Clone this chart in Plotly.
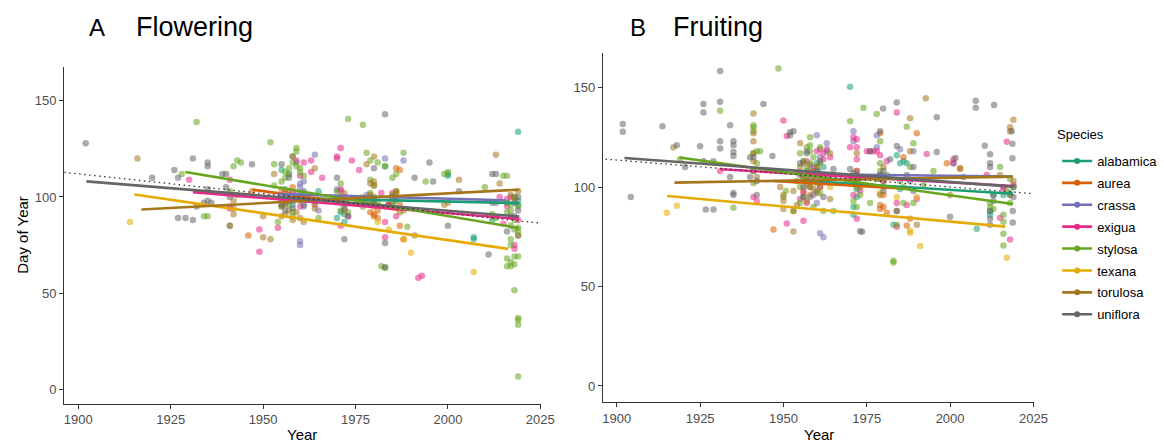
import plotly.graph_objects as go

species = ["alabamica", "aurea", "crassa", "exigua", "stylosa", "texana", "torulosa", "uniflora"]
colors = ["#1B9E77", "#D95F02", "#7570B3", "#E7298A", "#66A61E", "#E6AB02", "#A6761D", "#666666"]

# ---------------- Flowering (panel A): (year, day of year) ----------------
flow_alabamica = [(1955, 114), (1956, 104), (1958, 96), (1959, 100), (1965, 103), (1970, 89), (1971, 92),
                  (1972, 87), (1983, 116), (1984, 96), (2000, 112), (2000, 111), (2007, 79), (2007, 78),
                  (2012, 88), (2019, 134), (2019, 96), (2018, 100), (1957, 101), (1971, 97), (1972, 91),
                  (1985, 96), (2016, 97), (2019, 98)]
flow_aurea = [(1946, 80), (1947, 103), (1955, 104), (1956, 102), (1957, 103), (1958, 100), (1979, 92),
              (1980, 91), (1980, 90), (1981, 89), (1984, 96), (1986, 115), (1987, 114), (1987, 85),
              (1988, 78), (1979, 100), (1958, 105), (1980, 95), (1981, 93), (1987, 96)]
flow_crassa = [(1959, 118), (1960, 107), (1960, 105), (1961, 103), (1960, 100), (1961, 95), (1960, 77),
               (1960, 75), (1964, 122), (1962, 99), (1965, 93), (1970, 104), (1978, 101), (1983, 120),
               (1988, 119), (1957, 112), (1955, 99), (1956, 96), (1958, 98), (1959, 102), (1961, 108),
               (1972, 98), (1980, 97)]
flow_exigua = [(1930, 109), (1941, 109), (1941, 95), (1941, 94), (1941, 85), (1949, 83), (1949, 71.5),
               (1954, 84), (1958, 121), (1959, 119), (1960, 111), (1961, 118), (1963, 119), (1963, 113),
               (1964, 96), (1966, 110), (1970, 120), (1970, 121), (1971, 104), (1971, 85), (1971, 125.5),
               (1974, 119), (1976, 114), (1982, 102), (1983, 79), (1983, 87), (1985, 102), (1986, 90),
               (1992, 58), (1993, 59), (2014, 100), (2016, 99), (2018, 75), (2018, 73), (2019, 88),
               (2015, 86), (1956, 98), (1958, 102), (1960, 95), (1971, 103), (1972, 100), (1973, 90),
               (1980, 98), (1984, 96), (2016, 95), (2017, 100), (2019, 80)]
flow_stylosa = [(1928, 112), (1932, 139), (1934, 90), (1935, 90), (1941, 103), (1941, 85), (1942, 116),
                (1943, 119), (1944, 118), (1952, 128.5), (1953, 117), (1953, 106), (1954, 87), (1955, 95),
                (1956, 113), (1957, 115), (1958, 118), (1959, 125.5), (1959, 123.7), (1958, 121),
                (1960, 115), (1961, 111), (1958, 90), (1965, 89), (1960, 98), (1971, 107), (1971, 93),
                (1973, 140.6), (1977, 137.6), (1977, 95), (1978, 123), (1979, 109), (1980, 106),
                (1981, 118), (1983, 116), (1985, 110), (1986, 112), (1988, 123), (1989, 84.5), (1994, 108),
                (1999, 112), (2000, 113), (2010, 105), (2012, 91), (2015, 111), (2016, 111), (2016, 97),
                (2017, 93), (2017, 78), (2017, 75), (2016, 68), (2017, 66), (2016, 64), (2017, 64),
                (2018, 65), (2018, 69), (2019, 82), (2019, 80), (2019, 69), (2018, 51.5), (2019, 37),
                (2019, 36), (2019, 33.5), (2019, 6.5), (2018, 88), (2017, 85), (2019, 95), (1986, 103),
                (1979, 119), (1983, 63), (1982, 64), (1955, 108), (1956, 110), (1957, 112), (1959, 116),
                (1960, 113), (1961, 102), (1957, 96), (1958, 92), (1970, 103), (1971, 100), (1972, 96),
                (1973, 92), (1979, 102), (1980, 100), (1981, 97), (1985, 101), (1986, 98), (2012, 90),
                (2013, 89), (2016, 92), (2017, 96), (2018, 100), (2019, 84), (2018, 83), (1943, 101),
                (1960, 101), (1964, 97)]
flow_texana = [(1914, 87), (1977, 100), (1984, 83), (1988, 78), (1990, 71), (2007, 61), (1955, 98),
               (1981, 87)]
flow_torulosa = [(1916, 120), (1942, 98), (1942, 94), (1942, 91), (1950, 90), (1950, 79), (1952, 78),
                 (1953, 112), (1955, 95), (1956, 91), (1957, 93), (1959, 92), (1960, 89), (1964, 94),
                 (1964, 115), (1972, 102), (1978, 117), (1979, 107), (1980, 106), (1980, 121), (1985, 97),
                 (1986, 102), (1987, 92), (1988, 93), (1991, 80), (2003, 109), (2013, 122), (2014, 107),
                 (2019, 103), (2000, 97), (1999, 96), (1955, 90), (1956, 97), (1957, 99), (1958, 88),
                 (1961, 87), (1972, 100), (1972, 93), (1979, 101), (1979, 97), (1980, 108), (1985, 100),
                 (1986, 103), (2017, 101), (2018, 99)]
flow_uniflora = [(1902, 128), (1920, 110), (1926, 114), (1927, 110), (1927, 89), (1929, 89), (1931, 88),
                 (1931, 120), (1932, 95), (1934, 97), (1935, 98), (1935, 118), (1935, 116), (1935, 104),
                 (1939, 112), (1940, 112), (1940, 105), (1947, 117), (1955, 117), (1957, 110), (1960, 99),
                 (1956, 93), (1970, 110), (1972, 78), (1980, 115), (1983, 143), (1983, 76), (1985, 100),
                 (1991, 110), (1995, 118), (1996, 108), (2000, 85), (2003, 103), (2011, 70), (2012, 112),
                 (2013, 112), (2016, 82), (2018, 90), (2019, 100), (2018, 97), (1983, 63.5), (1955, 96),
                 (1957, 98), (1958, 94), (1961, 96), (1971, 98), (1972, 94), (1973, 90), (1979, 96),
                 (1980, 99), (1986, 99), (2012, 97), (2013, 97), (2017, 90), (2019, 93), (1936, 97),
                 (1941, 100)]

flow_fit_start_year = [1955, 1947.2, 1954, 1931, 1929, 1915.2, 1917.1, 1902.2]
flow_fit_start_doy = [99.5, 103.8, 101.5, 102.5, 113.0, 101.3, 93.5, 108.1]
flow_fit_end_year = [2019.3, 1986.8, 2015.5, 2019.3, 2019.3, 2016.3, 2019.3, 2019.3]
flow_fit_end_doy = [96.8, 93.3, 98.3, 88.5, 83.8, 73.0, 103.8, 89.8]
flow_overall_year = [1896.2, 2024.8]
flow_overall_doy = [112.8, 86.4]

# ---------------- Fruiting (panel B): (year, day of year) ----------------
fruit_alabamica = [(1970, 150.4), (1971, 86), (1958, 100), (1959, 103), (1960, 98), (1962, 110), (1963, 118),
                   (1971, 90), (1984, 116), (1985, 112), (1986, 113), (1987, 112), (1983, 81), (2001, 112),
                   (2008, 79), (2012, 86), (2012, 88), (2016, 96), (2018, 97), (1972, 95), (1957, 108),
                   (1960, 112), (1972, 99), (1979, 104), (1985, 99), (2013, 96)]
fruit_aurea = [(1947, 78.7), (1957, 105), (1958, 100), (1960, 97), (1962, 103), (1979, 127), (1979, 89),
               (1980, 90), (1981, 87), (1987, 80.6), (1988, 84), (1990, 127), (1999, 112), (2003, 109),
               (1986, 115), (1979, 91), (1956, 98), (1959, 103), (1972, 102), (1980, 96)]
fruit_crassa = [(1955, 107), (1956, 113), (1957, 103), (1959, 96), (1960, 126), (1960.5, 108), (1961, 105),
                (1961, 76.8), (1962, 74.8), (1963, 122), (1971, 128), (1971, 123), (1978, 126), (1978, 120),
                (1985, 119), (1989, 118), (1958, 95), (1960, 92), (1957, 118), (1959, 110), (1961, 115),
                (1972, 106), (1979, 106)]
fruit_exigua = [(1931, 108), (1941, 95), (1942, 93), (1950, 133.4), (1951, 125.6), (1951, 81.6), (1956, 83),
                (1955, 94), (1957, 113), (1958, 111), (1960, 118), (1961, 119), (1962, 117), (1962, 114),
                (1963, 119), (1964, 115), (1970, 120), (1971, 125), (1972, 124), (1972, 120), (1972, 114),
                (1971, 96), (1972, 84), (1975, 118), (1976, 118), (1977, 118), (1978, 118), (1979, 116),
                (1981, 113), (1984, 137.5), (1984, 80), (1984, 92), (1987, 91), (1990, 94), (1993, 116.6),
                (2001, 113.9), (2001, 112), (2011, 106), (2015, 84.6), (2016, 100), (2017, 122.8),
                (2018, 96), (2018, 73.6), (2019, 101), (1956, 97), (1957, 92), (1959, 108), (1960, 105),
                (1961, 100), (1972, 108), (1973, 98), (1980, 103), (2016, 99)]
fruit_stylosa = [(1919, 114), (1931, 138.3), (1935, 89.6), (1941, 131), (1941, 130), (1941, 128), (1941, 117),
                 (1941, 102), (1942, 118), (1943, 118), (1948.5, 159.6), (1950, 95), (1950.7, 98), (1953, 88),
                 (1955, 92), (1955, 117), (1956, 113), (1957, 110), (1958, 125), (1958, 121), (1958, 118),
                 (1959, 115), (1960, 110), (1961, 120), (1961, 97), (1962, 88), (1965, 88), (1970, 133),
                 (1971, 93), (1972, 90), (1974, 139.8), (1976, 92), (1978, 136.7), (1979, 123), (1979, 108),
                 (1981, 106), (1983, 63), (1983, 62), (1984, 81), (1986, 92), (1987, 130.3), (1988, 110),
                 (1989, 122), (1989, 92), (1992, 101), (1995, 108), (2012, 90), (2015, 110), (2016, 86),
                 (2016, 82.6), (2016, 76.5), (2016, 70.6), (2017, 98), (2018, 96), (2018, 92), (2019, 100),
                 (1955, 100), (1956, 105), (1956, 95), (1957, 120), (1958, 112), (1959, 106), (1960, 102),
                 (1961, 112), (1959, 90), (1971, 104), (1972, 100), (1973, 96), (1978, 104), (1979, 112),
                 (1980, 100), (1985, 103), (1986, 100), (1941, 108), (1942, 112), (2012, 92), (2013, 89),
                 (2018, 104)]
fruit_texana = [(1915, 87), (1918, 90.6), (1964, 100), (1979, 97), (1984, 95), (1988, 78), (1988, 77),
                (1991, 70.3), (1990, 95), (2017, 64.5)]
fruit_torulosa = [(1917, 120), (1941, 137), (1941, 127), (1941, 123), (1941, 113), (1942, 105), (1949, 100),
                  (1950, 96), (1950, 93), (1950, 89), (1953, 77.7), (1953, 88), (1954, 91), (1955, 122),
                  (1956, 112), (1957, 101), (1958, 96), (1960, 110), (1964, 117), (1964, 94), (1972, 117),
                  (1979, 96), (1980, 110), (1984, 88), (1988, 134.5), (1988, 118), (1992.7, 144.6),
                  (1990, 81), (2003, 109.6), (2000, 96), (2015, 106), (2018, 128), (2019, 133.8), (2019, 103),
                  (1955, 110), (1956, 105), (1957, 93), (1958, 108), (1959, 99), (1961, 100), (1972, 108),
                  (1973, 100), (1979, 105), (1980, 103), (1953, 98), (1954, 103), (1941, 117), (2018, 130)]
fruit_uniflora = [(1901.8, 131.7), (1901.8, 127.8), (1904.2, 95), (1913.7, 130.5), (1918, 121), (1920.5, 110),
                  (1925, 120.5), (1926, 141.7), (1926, 137.5), (1926, 113), (1926.7, 88.7), (1929, 88.7),
                  (1929, 113), (1931, 158.3), (1931, 142.9), (1931, 123), (1931, 119.4), (1934, 131),
                  (1934, 105), (1935, 123), (1935, 121), (1935, 117.6), (1935, 115.6), (1935, 97), (1935, 96),
                  (1940, 115), (1940, 105), (1941, 115), (1942, 96), (1944, 141.7), (1946.7, 115.6),
                  (1952, 127.5), (1952, 126), (1953, 128), (1955, 106), (1956, 100), (1960, 108), (1965, 109),
                  (1970, 109), (1973, 77.8), (1973.6, 77.5), (1976, 118), (1979.9, 139.5), (1979, 128),
                  (1980, 98), (1982, 114), (1984, 142.5), (1984, 120.6), (1984, 88), (1987, 106), (1989, 110),
                  (1996, 135), (1996, 117.6), (2000, 85), (2001.6, 114.6), (2004, 105), (2007.7, 143.4),
                  (2007.7, 139.8), (2010.4, 120.7), (2012, 116.5), (2012, 112), (2012, 110), (2012, 88),
                  (2012, 84), (2012, 81), (2013.2, 141.2), (2013, 96), (2018.5, 128), (2018.7, 121.7),
                  (2018.7, 114.4), (2018.8, 88), (2018.8, 82.2), (2019, 100), (1955, 112), (1956, 95),
                  (1957, 117), (1958, 104), (1961, 113), (1962, 95), (1971, 107), (1972, 103), (1979, 106),
                  (1980, 108), (1988, 103), (1989, 98), (1941, 108), (1942, 103), (2013, 93), (2019, 95)]

fruit_fit_start_year = [1955, 1947, 1954, 1931.1, 1918.8, 1915.1, 1917.3, 1902.3]
fruit_fit_start_doy = [103.3, 103.0, 106.5, 108.9, 114.8, 95.5, 102.2, 114.6]
fruit_fit_end_year = [2018.8, 1988, 2018.8, 2018.8, 2018.8, 2016.6, 2018.8, 2018.8]
fruit_fit_end_doy = [96.6, 99.0, 105.3, 100.5, 91.5, 80.1, 105.2, 100.2]
fruit_overall_year = [1896.6, 2024.6]
fruit_overall_doy = [114.0, 96.7]

flow_points = [flow_alabamica, flow_aurea, flow_crassa, flow_exigua, flow_stylosa, flow_texana,
               flow_torulosa, flow_uniflora]
fruit_points = [fruit_alabamica, fruit_aurea, fruit_crassa, fruit_exigua, fruit_stylosa, fruit_texana,
                fruit_torulosa, fruit_uniflora]

FONT = "Liberation Sans, Arial, sans-serif"
W, H = 1164, 442

fig = go.Figure()


def add_panel(points, sy, sd, ey, ed, oy, od, xa, ya):
    for i, sp in enumerate(species):
        pts = points[i]
        fig.add_trace(go.Scatter(
            x=[p[0] for p in pts], y=[p[1] for p in pts], mode="markers",
            marker=dict(color=colors[i], size=6.5, opacity=0.55, line=dict(width=0)),
            xaxis=xa, yaxis=ya, showlegend=False, hoverinfo="skip"))
    for i, sp in enumerate(species):
        fig.add_trace(go.Scatter(
            x=[sy[i], ey[i]], y=[sd[i], ed[i]], mode="lines",
            line=dict(color=colors[i], width=2.6),
            xaxis=xa, yaxis=ya, showlegend=False, hoverinfo="skip"))
    fig.add_trace(go.Scatter(
        x=oy, y=od, mode="lines", line=dict(color="#333333", width=1.3, dash="1.5px,3.5px"),
        xaxis=xa, yaxis=ya, showlegend=False, hoverinfo="skip"))


add_panel(flow_points, flow_fit_start_year, flow_fit_start_doy, flow_fit_end_year, flow_fit_end_doy,
          flow_overall_year, flow_overall_doy, "x", "y")
add_panel(fruit_points, fruit_fit_start_year, fruit_fit_start_doy, fruit_fit_end_year, fruit_fit_end_doy,
          fruit_overall_year, fruit_overall_doy, "x2", "y2")

# legend entries
for i, sp in enumerate(species):
    fig.add_trace(go.Scatter(
        x=[None], y=[None], mode="lines+markers", name=sp, legendgroup=sp,
        line=dict(color=colors[i], width=2.6), marker=dict(color=colors[i], size=6),
        xaxis="x2", yaxis="y2"))

axis_common = dict(
    showline=True, linecolor="#333333", linewidth=1.2, showgrid=False, zeroline=False,
    ticks="outside", ticklen=4, tickwidth=1, tickcolor="#333333",
    tickfont=dict(family=FONT, size=13, color="#4D4D4D"), fixedrange=True,
)
xticks = [1900, 1925, 1950, 1975, 2000, 2025]
yticks = [0, 50, 100, 150]

fig.update_layout(
    width=W, height=H, margin=dict(l=0, r=0, t=0, b=0),
    paper_bgcolor="white", plot_bgcolor="white",
    font=dict(family=FONT, color="#000000"),
    xaxis=dict(domain=[64 / W, 547 / W], range=[1896.2, 2025.3], tickvals=xticks, anchor="y", **axis_common),
    yaxis=dict(domain=[1 - 403.5 / H, 1 - 66.7 / H], range=[-7.5, 167.8], tickvals=yticks, anchor="x",
               **axis_common),
    xaxis2=dict(domain=[609.3 / W, 1046 / W], range=[1895.85, 2025.3], tickvals=xticks, anchor="y2",
                **axis_common),
    yaxis2=dict(domain=[1 - 402.3 / H, 1 - 52.5 / H], range=[-8.2, 167.6], tickvals=yticks, anchor="x2",
                **axis_common),
    legend=dict(
        x=1069 / W, y=1 - 146 / H, xanchor="left", yanchor="top",
        font=dict(family=FONT, size=13, color="#000000"),
        itemwidth=30, tracegroupgap=2, bgcolor="rgba(0,0,0,0)",
    ),
    showlegend=True,
)

annotations = [
    dict(text="A", x=87 / W, y=1 - 27 / H, font=dict(size=24)),
    dict(text="Flowering", x=135 / W, y=1 - 27 / H, font=dict(size=27)),
    dict(text="B", x=635 / W, y=1 - 27 / H, font=dict(size=24)),
    dict(text="Fruiting", x=678 / W, y=1 - 27 / H, font=dict(size=27)),
    dict(text="Species", x=1067 / W, y=1 - 134 / H, font=dict(size=13)),
]
for a in annotations:
    fig.add_annotation(xref="paper", yref="paper", xanchor="left", yanchor="middle", showarrow=False,
                       text=a["text"], x=a["x"], y=a["y"],
                       font=dict(family=FONT, size=a["font"]["size"], color="#000000"))

fig.add_annotation(xref="paper", yref="paper", x=21 / W, y=1 - 235 / H, text="Day of Year", textangle=-90,
                   showarrow=False, xanchor="center", yanchor="middle",
                   font=dict(family=FONT, size=15, color="#000000"))
fig.add_annotation(xref="paper", yref="paper", x=305 / W, y=1 - 434 / H, text="Year", showarrow=False,
                   xanchor="center", yanchor="middle", font=dict(family=FONT, size=15, color="#000000"))
fig.add_annotation(xref="paper", yref="paper", x=828 / W, y=1 - 434 / H, text="Year", showarrow=False,
                   xanchor="center", yanchor="middle", font=dict(family=FONT, size=15, color="#000000"))

fig.write_html("out.html", config={"displayModeBar": False},
               post_script="document.body.style.margin='0';document.body.style.overflow='hidden';")
